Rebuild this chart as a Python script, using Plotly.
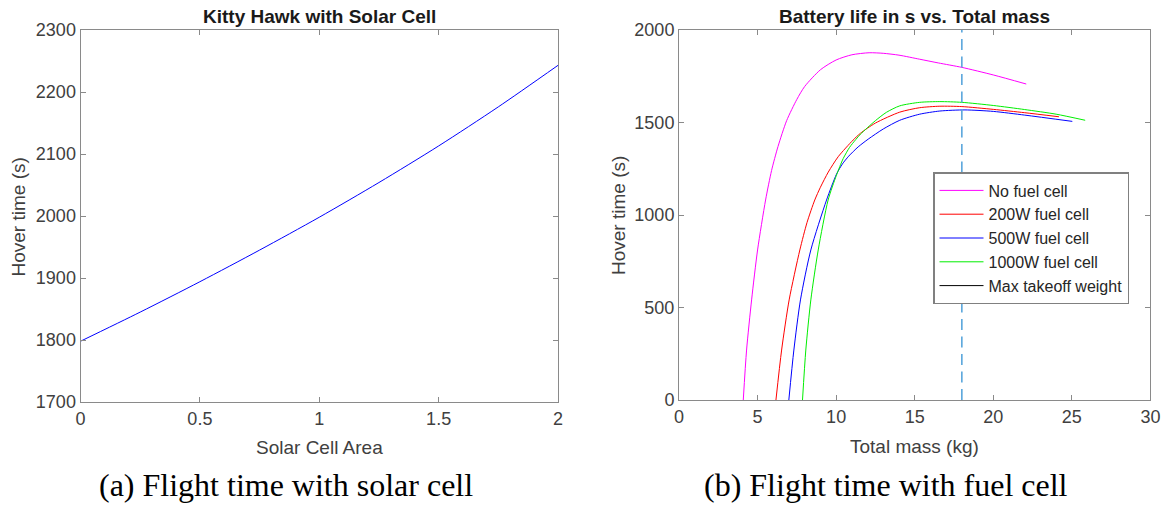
import plotly.graph_objects as go

# ---------------- data ----------------
solar_area = [0, 0.25, 0.5, 0.75, 1.0, 1.25, 1.5, 1.75, 2.0]
solar_hover = [1798, 1845, 1894, 1945, 1998, 2054, 2113, 2176, 2243]

nofc_mass = [4.09, 4.30, 4.62, 5.0, 5.51, 5.89, 6.3, 6.85, 7.5, 8.0, 9.0, 10, 11, 12.1, 13, 14, 15.32, 16.5, 18, 20, 22.1]
nofc_hover = [0, 270, 541, 811, 1081, 1240, 1370, 1510, 1625, 1695, 1785, 1838, 1866, 1877, 1874, 1864, 1842, 1822, 1798, 1757, 1708]

fc200_mass = [6.17, 6.53, 7.01, 7.69, 8.15, 8.64, 9.0, 9.5, 10.13, 11.08, 11.55, 12.5, 14.05, 15.32, 16.6, 18, 20, 22, 24.18]
fc200_hover = [0, 270, 541, 811, 960, 1081, 1150, 1232, 1315, 1405, 1442, 1497, 1556, 1580, 1588, 1586, 1571, 1553, 1531]

fc500_mass = [6.99, 7.31, 7.73, 8.39, 9.39, 10.02, 10.4, 10.8, 11.4, 12.04, 13, 14.05, 15.32, 16.6, 18.2, 20, 22, 25.03]
fc500_hover = [0, 270, 541, 811, 1081, 1220, 1276, 1318, 1368, 1410, 1465, 1512, 1545, 1562, 1568, 1560, 1540, 1506]

fc1000_mass = [7.86, 8.07, 8.39, 8.86, 9.49, 10.02, 10.45, 10.85, 11.25, 11.55, 12.5, 13.2, 14.05, 15.32, 16.6, 18, 20, 22, 24, 25.85]
fc1000_hover = [0, 270, 541, 811, 1081, 1215, 1305, 1365, 1408, 1437, 1510, 1555, 1590, 1609, 1613, 1609, 1592, 1570, 1545, 1512]

max_takeoff_mass = 18

left_xticks = [0, 0.5, 1, 1.5, 2]
left_xticklabels = ["0", "0.5", "1", "1.5", "2"]
left_yticks = [1700, 1800, 1900, 2000, 2100, 2200, 2300]
right_xticks = [0, 5, 10, 15, 20, 25, 30]
right_yticks = [0, 500, 1000, 1500, 2000]

# ---------------- figure ----------------
W, H = 1172, 506
SANS = "Liberation Sans, Arial, Helvetica, sans-serif"
SERIF = "Liberation Serif, Times New Roman, serif"
AXC = "#8a8a8a"
TXC = "#404040"

def px(x):
    return x / W

def py(y):
    return 1 - y / H

fig = go.Figure()

fig.add_trace(go.Scatter(x=solar_area, y=solar_hover, mode="lines",
                         line=dict(color="#0000ff", width=1, shape="spline", smoothing=0.8),
                         xaxis="x", yaxis="y", showlegend=False))

series = [
    ("No fuel cell", nofc_mass, nofc_hover, "#ff00ff"),
    ("200W fuel cell", fc200_mass, fc200_hover, "#ff0000"),
    ("500W fuel cell", fc500_mass, fc500_hover, "#0000ff"),
    ("1000W fuel cell", fc1000_mass, fc1000_hover, "#00ee00"),
]
for name, xs, ys, col in series:
    fig.add_trace(go.Scatter(x=xs, y=ys, mode="lines", name=name,
                             line=dict(color=col, width=1, shape="spline", smoothing=0.7),
                             xaxis="x2", yaxis="y2"))

# max takeoff weight dashed line
fig.add_trace(go.Scatter(x=[max_takeoff_mass, max_takeoff_mass], y=[right_yticks[0], right_yticks[-1]], mode="lines",
                         line=dict(color="#5aa6dc", width=1.6, dash="11px,6.5px"),
                         xaxis="x2", yaxis="y2", showlegend=False))
# legend entry (shown black in the original legend)
fig.add_trace(go.Scatter(x=[None], y=[None], mode="lines", name="Max takeoff weight",
                         line=dict(color="#000000", width=1), xaxis="x2", yaxis="y2"))

axis_common = dict(showline=True, linecolor=AXC, linewidth=1, mirror="ticks", ticks="inside", ticklen=5,
                   tickcolor=AXC, tickwidth=1, showgrid=False, zeroline=False, automargin=False,
                   tickfont=dict(family=SANS, size=18, color=TXC))

fig.update_layout(
    width=W, height=H, margin=dict(l=0, r=0, t=0, b=0, pad=0, autoexpand=False), autosize=False,
    paper_bgcolor="white", plot_bgcolor="white",
    xaxis=dict(domain=[px(80.5), px(558)], range=[0, 2], tickvals=left_xticks, ticktext=left_xticklabels,
               anchor="y", **axis_common),
    yaxis=dict(domain=[py(402), py(30)], range=[1700, 2300], tickvals=left_yticks, anchor="x", **axis_common),
    xaxis2=dict(domain=[px(679), px(1150.4)], range=[0, 30], tickvals=right_xticks, anchor="y2", **axis_common),
    yaxis2=dict(domain=[py(400), py(30)], range=[0, 2000], tickvals=right_yticks, anchor="x2", **axis_common),
    legend=dict(x=px(933), y=py(172), xanchor="left", yanchor="top", bgcolor="white",
                bordercolor="#808080", borderwidth=1.5, font=dict(family=SANS, size=16, color="#262626"),
                itemwidth=44, tracegroupgap=0),
    showlegend=True,
)

ann = []
ann.append(dict(text="<b>Kitty Hawk with Solar Cell</b>", x=px(319), y=py(16), font=dict(family=SANS, size=19, color="#1a1a1a")))
ann.append(dict(text="<b>Battery life in s vs. Total mass</b>", x=px(914.5), y=py(16), font=dict(family=SANS, size=19, color="#1a1a1a")))
ann.append(dict(text="Solar Cell Area", x=px(319), y=py(447), font=dict(family=SANS, size=19, color=TXC)))
ann.append(dict(text="Total mass (kg)", x=px(914.5), y=py(446), font=dict(family=SANS, size=19, color=TXC)))
ann.append(dict(text="Hover time (s)", x=px(18.5), y=py(217), textangle=-90, font=dict(family=SANS, size=19, color=TXC)))
ann.append(dict(text="Hover time (s)", x=px(618), y=py(216), textangle=-90, font=dict(family=SANS, size=19, color=TXC)))
ann.append(dict(text="(a) Flight time with solar cell", x=px(286), y=py(485), font=dict(family=SERIF, size=32, color="#000000")))
ann.append(dict(text="(b) Flight time with fuel cell", x=px(885.5), y=py(485), font=dict(family=SERIF, size=32, color="#000000")))

for a in ann:
    a.update(xref="paper", yref="paper", showarrow=False, xanchor="center", yanchor="middle")
fig.update_layout(annotations=ann)

fig.write_html("out.html", config={"displayModeBar": False},
               post_script="document.body.style.margin='0';document.body.style.overflow='hidden';")
